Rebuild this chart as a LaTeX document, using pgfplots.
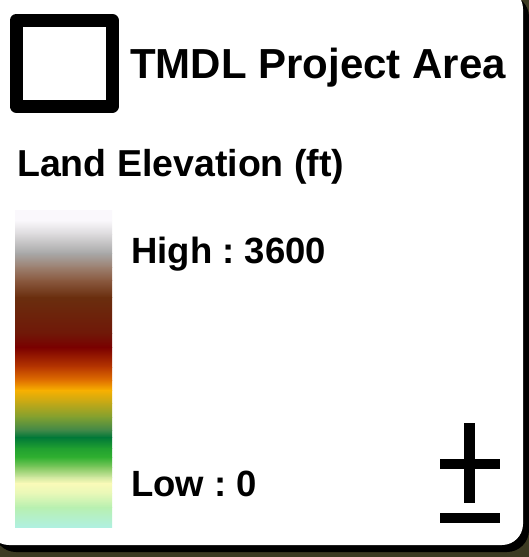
\documentclass[border=0pt]{standalone}
\usepackage{pgfplots}
\pgfplotsset{compat=1.18}
\usepackage{fontspec}
\setmainfont{Liberation Sans}
\frenchspacing
\definecolor{bgmap}{HTML}{3C3A22}
\definecolor{c0}{HTML}{FAF8FC}
\definecolor{c1}{HTML}{DCDADC}
\definecolor{c2}{HTML}{A8A8A8}
\definecolor{c3}{HTML}{9C8070}
\definecolor{c4}{HTML}{8A5A40}
\definecolor{c5}{HTML}{6A2E0E}
\definecolor{c6}{HTML}{701808}
\definecolor{c7}{HTML}{7A0000}
\definecolor{c8}{HTML}{B83800}
\definecolor{c9}{HTML}{E07000}
\definecolor{c10}{HTML}{F8B000}
\definecolor{c11}{HTML}{C0A818}
\definecolor{c12}{HTML}{80A030}
\definecolor{c13}{HTML}{408848}
\definecolor{c14}{HTML}{007838}
\definecolor{c15}{HTML}{20A030}
\definecolor{c16}{HTML}{30B030}
\definecolor{c17}{HTML}{80C860}
\definecolor{c18}{HTML}{D0E8A0}
\definecolor{c19}{HTML}{FAFAB8}
\definecolor{c20}{HTML}{E8F8B8}
\definecolor{c21}{HTML}{B8F0B0}
\definecolor{c22}{HTML}{B0F0E0}
\newcommand{\seg}[4]{\addplot[draw=none, top color=#3, bottom color=#4] coordinates {(15,#1) (112,#1) (112,#2) (15,#2)} -- cycle;}
\begin{document}
\begin{tikzpicture}
\begin{axis}[
  width=529pt, height=557pt, scale only axis,
  xmin=0, xmax=529, ymin=0, ymax=557, y dir=reverse,
  hide axis, clip=true,
]
% background map strip
\addplot[draw=none, fill=bgmap] coordinates {(0,0) (529,0) (529,557) (0,557)} -- cycle;
% panel shadow / border
\addplot[draw=none, fill=black, rounded corners=22pt] coordinates {(-6,-5) (529,-5) (529,552) (-6,552)} -- cycle;
% panel
\addplot[draw=none, fill=white, rounded corners=21pt] coordinates {(-12,-12) (523,-12) (523,545) (-12,545)} -- cycle;
% project area symbol
\addplot[black, line width=13pt, line join=round] coordinates {(16,20.5) (112.5,20.5) (112.5,106) (16,106)} -- cycle;
% elevation colour ramp
\seg{210}{220.5}{c0}{c0}
\seg{220}{234.5}{c0}{c1}
\seg{234}{253.5}{c1}{c2}
\seg{253}{267.5}{c2}{c3}
\seg{267}{280.5}{c3}{c4}
\seg{280}{297.5}{c4}{c5}
\seg{297}{333.5}{c5}{c6}
\seg{333}{347.5}{c6}{c7}
\seg{347}{367.5}{c7}{c8}
\seg{367}{380.5}{c8}{c9}
\seg{380}{390.5}{c9}{c10}
\seg{390}{403.5}{c10}{c11}
\seg{403}{417.5}{c11}{c12}
\seg{417}{430.5}{c12}{c13}
\seg{430}{437.5}{c13}{c14}
\seg{437}{448.5}{c14}{c15}
\seg{448}{457.5}{c15}{c16}
\seg{457}{467.5}{c16}{c17}
\seg{467}{477.5}{c17}{c18}
\seg{477}{483.5}{c18}{c19}
\seg{483}{493.5}{c19}{c20}
\seg{493}{507.5}{c20}{c21}
\seg{507}{527}{c21}{c22}
% north arrow symbol
\addplot[black, line width=11pt] coordinates {(469.5,423.3) (469.5,503.3)};
\addplot[black, line width=10pt] coordinates {(440,463.7) (500,463.7)};
\addplot[black, line width=10pt] coordinates {(440,518.3) (500,518.3)};
% texts
\node[anchor=base west, inner sep=0pt, font=\fontsize{42}{50}\selectfont\bfseries] at (axis cs:130,78.3) {TMDL Project Area};
\node[anchor=base west, inner sep=0pt, font=\fontsize{37.5}{45}\selectfont\bfseries] at (axis cs:17,176.7) {Land Elevation (ft)};
\node[anchor=base west, inner sep=0pt, font=\fontsize{36.5}{44}\selectfont\bfseries] at (axis cs:131,263.3) {High : 3600};
\node[anchor=base west, inner sep=0pt, font=\fontsize{36.5}{44}\selectfont\bfseries] at (axis cs:131,496.7) {Low : 0};
\end{axis}
\end{tikzpicture}
\end{document}
